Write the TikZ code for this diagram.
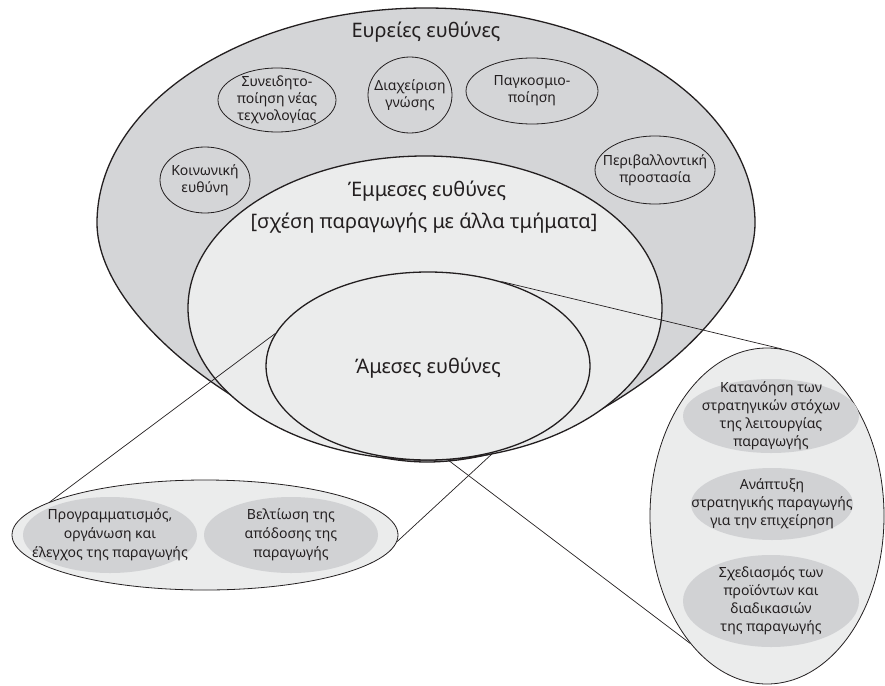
\documentclass[tikz,border=0pt]{standalone}
\usepackage{fontspec}
\setmainfont{Noto Sans}
\usetikzlibrary{shapes.geometric}
\definecolor{ink}{HTML}{231F20}
\definecolor{outergray}{HTML}{D4D5D7}
\definecolor{paleshell}{HTML}{EBECEC}
\definecolor{blobgray}{HTML}{D1D2D4}

\begin{document}
\begin{tikzpicture}[x=1pt, y=-1pt,
  shell/.style={draw=ink, line width=1.3pt},
  ring/.style={ellipse, draw=ink, line width=1.3pt, fill=paleshell, inner sep=0pt},
  bubble/.style={ellipse, draw=ink, line width=0.8pt, inner sep=0pt},
  callout/.style={ellipse, draw=ink, line width=0.8pt, fill=paleshell, inner sep=0pt},
  blob/.style={ellipse, fill=blobgray, inner sep=0pt},
  label text/.style={align=center, inner sep=0pt, text=ink, font=\fontsize{14}{17}\selectfont},
  blob text/.style={align=center, inner sep=0pt, text=ink, font=\fontsize{14}{19}\selectfont},
  heading/.style={inner sep=0pt, text=ink, font=\fontsize{20}{22}\selectfont},
  link/.style={draw=ink, line width=0.7pt}]

\useasboundingbox (0,0) rectangle (885,685);

% wide responsibilities: drop-shaped outer region
\path[shell, fill=outergray] (97,223)
  arc[start angle=180, end angle=0, x radius=329pt, y radius=215pt]
  .. controls (755,330) and (565,462) .. (427,462)
  .. controls (295,462) and (97,330) .. (97,223) -- cycle;

% topics of the outer region
\node[bubble, minimum width=118pt, minimum height=64pt] (aware) at (277,100) {};
\node[bubble, minimum width=84pt, minimum height=76pt] (know) at (410,95) {};
\node[bubble, minimum width=132pt, minimum height=66pt] (global) at (532,91) {};
\node[bubble, minimum width=90pt, minimum height=66pt] (social) at (205,180) {};
\node[bubble, minimum width=120pt, minimum height=68pt] (environ) at (655,170) {};

\node[label text] (aware-t) at (aware.center) {Συνειδητο-\\ποίηση νέας\\τεχνολογίας};
\node[label text] (know-t) at (know.center) {Διαχείριση\\γνώσης};
\node[label text] (global-t) at (global.center) {Παγκοσμιο-\\ποίηση};
\node[label text] (social-t) at (social.center) {Κοινωνική\\ευθύνη};
\node[label text] (environ-t) at (environ.center) {Περιβαλλοντική\\προστασία};

% indirect and direct responsibilities
\node[ring, minimum width=474pt, minimum height=304pt] (mid) at (425,308) {};
\node[ring, minimum width=324pt, minimum height=188pt] (inner) at (428,366) {};

\node[heading] (outer-t) at (426,32) {Ευρείες ευθύνες};
\node[heading] (mid-t1) at (427,191) {Έμμεσες ευθύνες};
\node[heading] (mid-t2) at (424,223) {[σχέση παραγωγής με άλλα τμήματα]};
\node[heading] (inner-t) at (428,368) {Άμεσες ευθύνες};

% lower-left detail
\node[callout, minimum width=386pt, minimum height=110pt] (bl) at (205,535) {};
\node[blob, minimum width=174pt, minimum height=76pt] (bl1) at (110,535) {};
\node[blob, minimum width=174pt, minimum height=76pt] (bl2) at (291,535) {};
\node[blob text] (bl1-t) at (bl1.center) {Προγραμματισμός,\\οργάνωση και\\έλεγχος της παραγωγής};
\node[blob text] (bl2-t) at (bl2.center) {Βελτίωση της\\απόδοσης της\\παραγωγής};

% right-hand detail
\node[callout, minimum width=234pt, minimum height=336pt] (rc) at (767,516) {};
\node[blob, minimum width=176pt, minimum height=74pt] (rc1) at (771,416) {};
\node[blob, minimum width=162pt, minimum height=72pt] (rc2) at (772,504) {};
\node[blob, minimum width=176pt, minimum height=92pt] (rc3) at (771,601) {};
\node[blob text, font=\fontsize{14}{18}\selectfont] (rc1-t) at (rc1.center) {Κατανόηση των\\στρατηγικών στόχων\\της λειτουργίας\\παραγωγής};
\node[blob text, font=\fontsize{14}{18}\selectfont] (rc2-t) at (rc2.center) {Ανάπτυξη\\στρατηγικής παραγωγής\\για την επιχείρηση};
\node[blob text, font=\fontsize{14}{18}\selectfont] (rc3-t) at (rc3.center) {Σχεδιασμός των\\προϊόντων και\\διαδικασιών\\της παραγωγής};

% zoom lines
\draw[link] (bl.168) -- (inner.168);
\draw[link] (bl.-2) -- (inner.-53);
\draw[link] (inner.49) -- (rc.85);
\draw[link] (inner.-78) -- (rc.-121);
\end{tikzpicture}
\end{document}
